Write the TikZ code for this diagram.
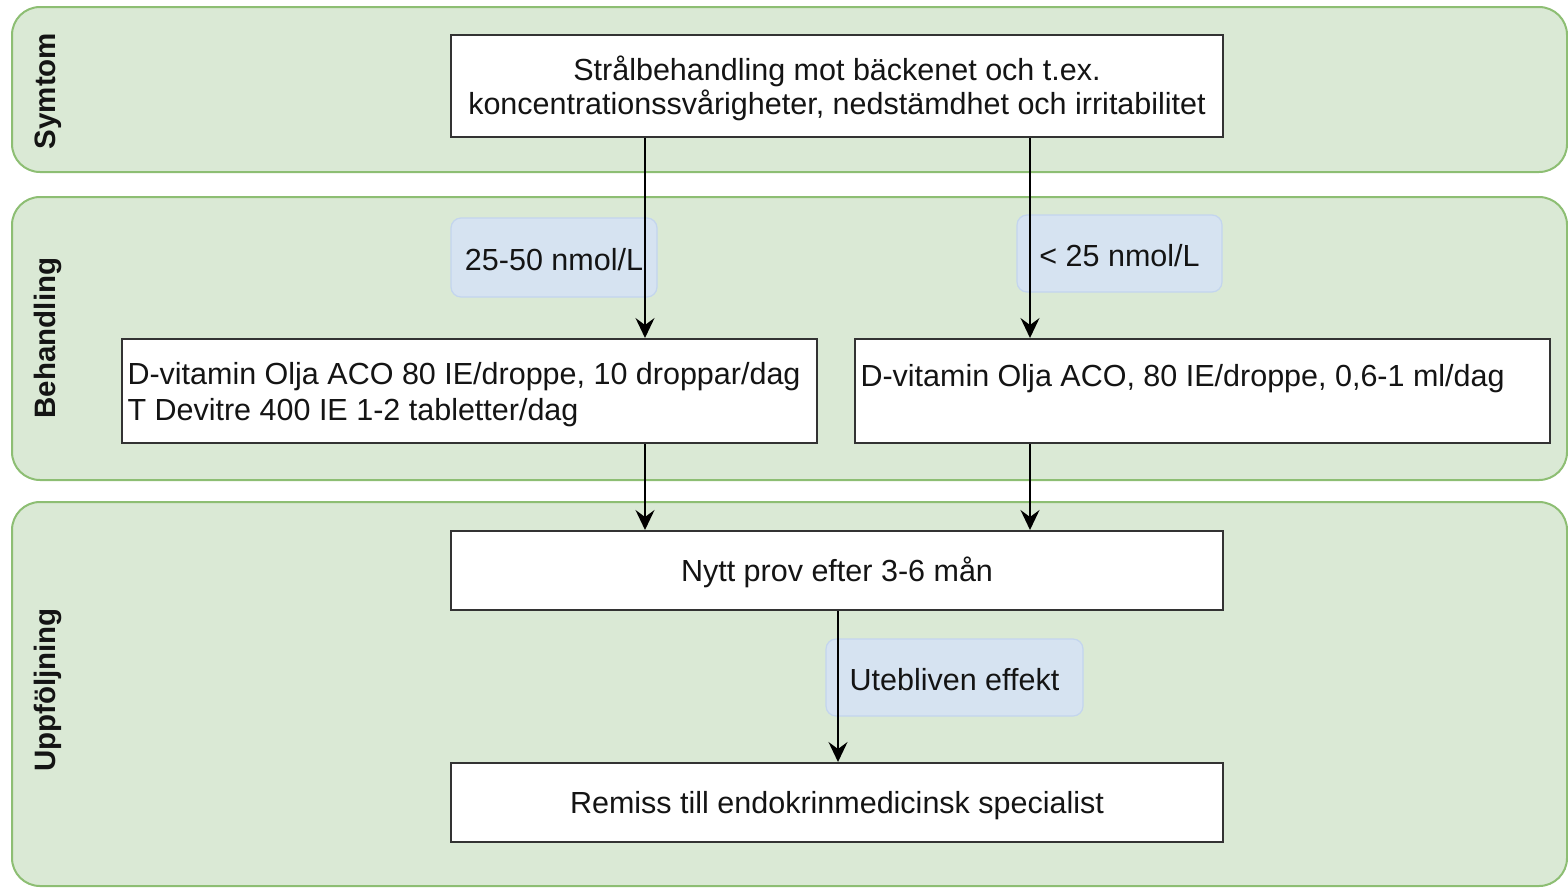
\documentclass[tikz,border=0pt]{standalone}
\usepackage{fontspec}
\setmainfont{Liberation Sans}
\usetikzlibrary{arrows.meta}
\definecolor{lanefill}{HTML}{DAE9D5}
\definecolor{laneline}{HTML}{8DBE73}
\definecolor{lblfill}{HTML}{D6E3F6}
\definecolor{lblline}{HTML}{C3D5EE}
\definecolor{boxline}{HTML}{333333}
\definecolor{txt}{HTML}{141414}
\newcommand{\ls}{\rule[-2.5pt]{0pt}{31.5pt}}
\setlength{\lineskiplimit}{-100pt}
\begin{document}
\begin{tikzpicture}[x=1pt,y=-1pt,
  lane/.style={draw=laneline,fill=lanefill,line width=2pt,rounded corners=28pt},
  lanelabel/.style={rotate=90,font=\fontsize{29.5}{32}\selectfont\bfseries,text=txt},
  bodyfont/.style={font=\fontsize{30.5}{34}\selectfont},
  stepbox/.style={draw=boxline,fill=white,line width=2pt,inner sep=0pt,text=txt,
    bodyfont,align=center},
  leftbox/.style={stepbox,align=flush left,inner xsep=5.5pt,inner ysep=0pt,text width=684pt,
    minimum height=104pt},
  cond/.style={draw=lblline,fill=lblfill,fill opacity=0.85,text opacity=1,line width=1.2pt,
    rounded corners=10pt,inner sep=0pt,text=txt,bodyfont},
  arr/.style={draw=black,line width=1.8pt,-{Stealth[length=20pt,width=19pt,inset=7pt]}}]
\useasboundingbox (0,0) rectangle (1568,887);
% lanes
\draw[lane] (12,7) rectangle (1567,172);
\draw[lane] (12,197) rectangle (1567,480);
\draw[lane] (12,502) rectangle (1567,886);
\node[lanelabel] (l1) at (48,91) {Symtom};
\node[lanelabel] (l2) at (48,338) {Behandling};
\node[lanelabel] (l3) at (48,690) {Uppföljning};
% boxes
\node[stepbox,minimum width=772pt,minimum height=102pt] (top) at (837,86)
  {\ls Strålbehandling mot bäckenet och t.ex.\\\ls koncentrationssvårigheter, nedstämdhet och irritabilitet};
\node[leftbox] (lb) at (469.5,391)
  {\ls D-vitamin Olja ACO 80 IE/droppe, 10 droppar/dag\\\ls T Devitre 400 IE 1-2 tabletter/dag};
\node[leftbox] (rb) at (1202.5,391)
  {\ls D-vitamin Olja ACO, 80 IE/droppe, 0,6-1 ml/dag\\\ls};
\node[stepbox,minimum width=772pt,minimum height=79pt] (nytt) at (837,570.5)
  {\ls Nytt prov efter 3-6 mån};
\node[stepbox,minimum width=772pt,minimum height=79pt] (remiss) at (837,802.5)
  {\ls Remiss till endokrinmedicinsk specialist};
% condition labels
\node[cond,minimum width=206pt,minimum height=79pt] (c1) at (554,257.5) {\ls 25-50 nmol/L};
\node[cond,minimum width=205pt,minimum height=77pt] (c2) at (1119.5,253.5) {\ls < 25 nmol/L};
\node[cond,minimum width=257pt,minimum height=77pt] (c3) at (954.5,677.5) {\ls Utebliven effekt};
% connector x positions
\coordinate (xa) at (645,0);
\coordinate (xb) at (1030,0);
\coordinate (xc) at (838,0);
\draw[arr] (top.south -| xa) -- (lb.north -| xa);
\draw[arr] (top.south -| xb) -- (rb.north -| xb);
\draw[arr] (lb.south -| xa) -- (nytt.north -| xa);
\draw[arr] (rb.south -| xb) -- (nytt.north -| xb);
\draw[arr] (nytt.south -| xc) -- (remiss.north -| xc);
\end{tikzpicture}
\end{document}
